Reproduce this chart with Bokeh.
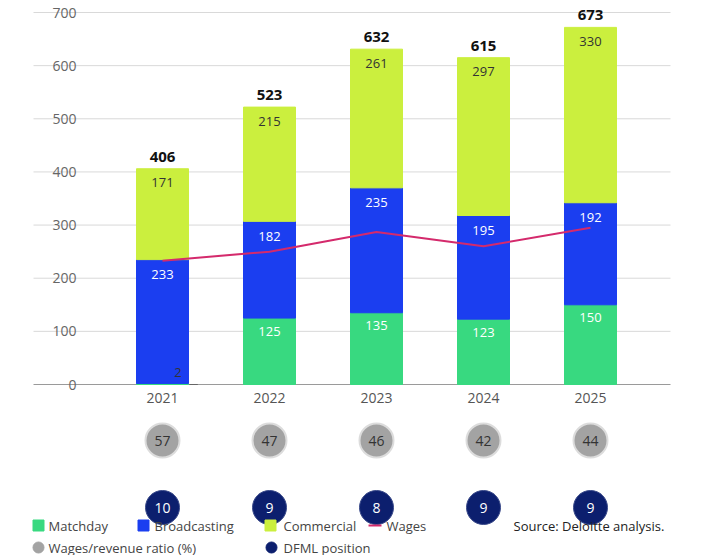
from bokeh.plotting import figure
from bokeh.models import ColumnDataSource, Range1d
from bokeh.embed import file_html
from bokeh.resources import INLINE
from bokeh.core.properties import value

years = ["2021", "2022", "2023", "2024", "2025"]
matchday = [2, 125, 135, 123, 150]
broadcasting = [233, 182, 235, 195, 192]
commercial = [171, 215, 261, 297, 330]
totals = [406, 523, 632, 615, 673]
wages = [233, 250, 287, 260, 295]
ratio = [57, 47, 46, 42, 44]
position = [10, 9, 8, 9, 9]
yticks = [0, 100, 200, 300, 400, 500, 600, 700]

C_M, C_B, C_C = "#38d980", "#1b3ef0", "#cbef3e"
C_W, C_G, C_N = "#d42a6c", "#a3a3a3", "#0c1f6e"
F = value("Open Sans")

W, H = 712, 555
px_x, px_y = 107.0, 372.0 / 700
x0 = -162 / px_x
y1 = 700 + 12 / px_y
p = figure(width=W, height=H, output_backend="svg", toolbar_location=None,
           x_range=Range1d(x0, x0 + W / px_x), y_range=Range1d(y1 - H / px_y, y1),
           min_border=0)
p.axis.visible = False
p.grid.visible = False
p.outline_line_color = None

def sx(s):
    return x0 + s / px_x

def sy(s):
    return y1 - s / px_y

xs = list(range(len(years)))
gx0, gx1 = sx(33), sx(670)
for t in yticks:
    p.segment(gx0, t, gx1, t, line_color="#9a9a9a" if t == 0 else "#d9d9d9", line_width=1)
p.text([sx(76)] * len(yticks), yticks, text=[str(t) for t in yticks], text_align="right",
       text_baseline="middle", text_font=F, text_font_size="14px", text_color="#666666")

m_top = matchday
b_top = [m + b for m, b in zip(matchday, broadcasting)]
c_top = [b + c for b, c in zip(b_top, commercial)]
src = ColumnDataSource(dict(x=xs, m=matchday, bt=b_top, ct=c_top, zero=[0] * 5))
bw = 52 / px_x
p.vbar(x="x", bottom="zero", top="m", width=bw, color=C_M, source=src)
p.vbar(x="x", bottom="m", top="bt", width=bw, color=C_B, source=src)
p.vbar(x="x", bottom="bt", top="ct", width=bw, color=C_C, source=src)

p.line(xs, wages, line_color=C_W, line_width=2)

p.text(xs[1:], m_top[1:], text=[str(v) for v in matchday[1:]], y_offset=13, text_align="center",
       text_baseline="middle", text_font=F, text_font_size="13px", text_color="white")
p.text([xs[0] + 0.11], [0], text=[str(matchday[0])], y_offset=-12, text_align="left",
       text_baseline="middle", text_font=F, text_font_size="13px", text_color="#333333")
p.segment([xs[0] + 0.25], [0], [xs[0] + 0.33], [0], line_color="#666666")
p.text(xs, b_top, text=[str(v) for v in broadcasting], y_offset=15, text_align="center",
       text_baseline="middle", text_font=F, text_font_size="13px", text_color="white")
p.text(xs, c_top, text=[str(v) for v in commercial], y_offset=14, text_align="center",
       text_baseline="middle", text_font=F, text_font_size="13px", text_color="#333333")
p.text(xs, totals, text=[str(v) for v in totals], y_offset=-12, text_align="center",
       text_baseline="middle", text_font=F, text_font_size="15px", text_font_style="bold",
       text_color="#111111")

p.text(xs, [0] * 5, text=years, y_offset=13, text_align="center", text_baseline="middle",
       text_font=F, text_font_size="14px", text_color="#555555")

ry, ny = sy(440), sy(507)
p.scatter(xs, [ry] * 5, size=34, fill_color=C_G, line_color="#dcdcdc", line_width=2)
p.text(xs, [ry] * 5, text=[str(v) for v in ratio], text_align="center", text_baseline="middle",
       text_font=F, text_font_size="14px", text_color="#333333")
p.scatter(xs, [ny] * 5, size=34, fill_color=C_N, line_color="#3a4a8a", line_width=1)
p.text(xs, [ny] * 5, text=[str(v) for v in position], text_align="center", text_baseline="middle",
       text_font=F, text_font_size="14px", text_color="white")

l1, l2 = sy(525), sy(547)
for s_x, col, lab, t_x in [(38, C_M, "Matchday", 48), (143, C_B, "Broadcasting", 154),
                           (270, C_C, "Commercial", 283)]:
    p.scatter([sx(s_x)], [l1], marker="square", size=11, color=col)
    p.text([sx(t_x)], [l1], text=[lab], text_baseline="middle", text_font=F,
           text_font_size="13px", text_color="#444444")
p.segment([sx(368)], [l1], [sx(381)], [l1], line_color=C_W, line_width=2)
p.text([sx(386)], [l1], text=["Wages"], text_baseline="middle", text_font=F,
       text_font_size="13px", text_color="#444444")
p.text([sx(513)], [l1], text=["Source: Deloitte analysis."], text_baseline="middle", text_font=F,
       text_font_size="13px", text_color="#222222")
p.scatter([sx(38)], [l2], size=11, color=C_G)
p.text([sx(48)], [l2], text=["Wages/revenue ratio (%)"], text_baseline="middle", text_font=F,
       text_font_size="13px", text_color="#444444")
p.scatter([sx(271)], [l2], size=11, color=C_N)
p.text([sx(283)], [l2], text=["DFML position"], text_baseline="middle", text_font=F,
       text_font_size="13px", text_color="#444444")

open("out.html", "w").write(file_html(p, INLINE))
